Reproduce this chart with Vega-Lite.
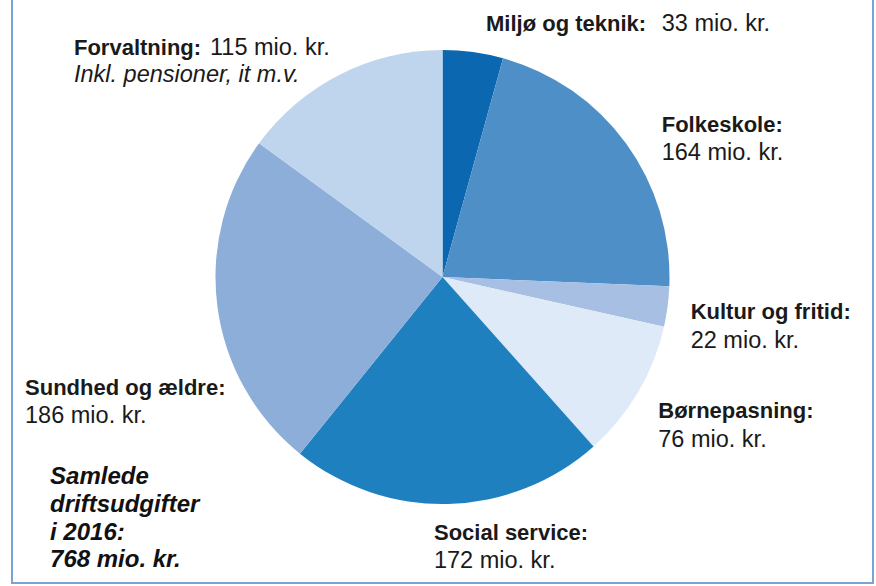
{
  "$schema": "https://vega.github.io/schema/vega-lite/v6.json",
  "width": 861,
  "height": 612,
  "autosize": "none",
  "padding": {"left": 12, "right": 3, "top": -29, "bottom": 3},
  "background": "white",
  "view": {"stroke": "#7aa3d6", "strokeWidth": 2, "fill": "white"},
  "config": {"view": {"stroke": "#7aa3d6", "strokeWidth": 2}, "style": {"cell": {"stroke": "#7aa3d6", "strokeWidth": 2}}},
  "data": {
    "values": [
      {"rank": 1, "cat": "Miljø og teknik", "name": "Miljø og teknik:", "mio": 33, "amount": "33 mio. kr.", "note": "", "summary": ""},
      {"rank": 2, "cat": "Folkeskole", "name": "Folkeskole:", "mio": 164, "amount": "164 mio. kr.", "note": "", "summary": ""},
      {"rank": 3, "cat": "Kultur og fritid", "name": "Kultur og fritid:", "mio": 22, "amount": "22 mio. kr.", "note": "", "summary": ""},
      {"rank": 4, "cat": "Børnepasning", "name": "Børnepasning:", "mio": 76, "amount": "76 mio. kr.", "note": "", "summary": ""},
      {"rank": 5, "cat": "Social service", "name": "Social service:", "mio": 172, "amount": "172 mio. kr.", "note": "", "summary": ""},
      {"rank": 6, "cat": "Sundhed og ældre", "name": "Sundhed og ældre:", "mio": 186, "amount": "186 mio. kr.", "note": "", "summary": "Samlede\ndriftsudgifter\ni 2016:\n768 mio. kr."},
      {"rank": 7, "cat": "Forvaltning", "name": "Forvaltning:", "mio": 115, "amount": "115 mio. kr.", "note": "Inkl. pensioner, it m.v.", "summary": ""}
    ]
  },
  "encoding": {
    "theta": {"field": "mio", "type": "quantitative", "stack": true},
    "order": {"field": "rank", "type": "quantitative"}
  },
  "layer": [
    {
      "mark": {"type": "arc", "radius": 227},
      "encoding": {
        "color": {
          "field": "cat", "type": "nominal", "legend": null,
          "scale": {
            "domain": ["Miljø og teknik", "Folkeskole", "Kultur og fritid", "Børnepasning", "Social service", "Sundhed og ældre", "Forvaltning"],
            "range": ["#0a67b0", "#4f8fc8", "#a7bfe2", "#deeaf7", "#1f80c0", "#8caed8", "#bfd5ed"]
          }
        }
      }
    },
    {
      "mark": {"type": "text", "radius": 258, "dx": 8.8, "dy": 9.7, "align": "left", "baseline": "alphabetic", "font": "Liberation Sans", "fontWeight": "bold", "fontSize": 22, "color": "#1a1a1a"},
      "encoding": {"text": {"condition": {"test": "datum.rank === 1", "field": "name"}, "value": ""}}
    },
    {
      "mark": {"type": "text", "radius": 258, "dx": 184.5, "dy": 9.7, "align": "left", "baseline": "alphabetic", "font": "Liberation Sans", "fontSize": 23.5, "color": "#1a1a1a"},
      "encoding": {"text": {"condition": {"test": "datum.rank === 1", "field": "amount"}, "value": ""}}
    },
    {
      "mark": {"type": "text", "radius": 250, "dx": 17.2, "dy": 2.1, "align": "left", "baseline": "alphabetic", "font": "Liberation Sans", "fontWeight": "bold", "fontSize": 22, "color": "#1a1a1a"},
      "encoding": {"text": {"condition": {"test": "datum.rank === 2", "field": "name"}, "value": ""}}
    },
    {
      "mark": {"type": "text", "radius": 250, "dx": 17.2, "dy": 30.4, "align": "left", "baseline": "alphabetic", "font": "Liberation Sans", "fontSize": 23.5, "color": "#1a1a1a"},
      "encoding": {"text": {"condition": {"test": "datum.rank === 2", "field": "amount"}, "value": ""}}
    },
    {
      "mark": {"type": "text", "radius": 250, "dx": 0.3, "dy": 9.7, "align": "left", "baseline": "alphabetic", "font": "Liberation Sans", "fontWeight": "bold", "fontSize": 22, "color": "#1a1a1a"},
      "encoding": {"text": {"condition": {"test": "datum.rank === 3", "field": "name"}, "value": ""}}
    },
    {
      "mark": {"type": "text", "radius": 250, "dx": 0.3, "dy": 38.7, "align": "left", "baseline": "alphabetic", "font": "Liberation Sans", "fontSize": 23.5, "color": "#1a1a1a"},
      "encoding": {"text": {"condition": {"test": "datum.rank === 3", "field": "amount"}, "value": ""}}
    },
    {
      "mark": {"type": "text", "radius": 250, "dx": 0.3, "dy": 14.5, "align": "left", "baseline": "alphabetic", "font": "Liberation Sans", "fontWeight": "bold", "fontSize": 22, "color": "#1a1a1a"},
      "encoding": {"text": {"condition": {"test": "datum.rank === 4", "field": "name"}, "value": ""}}
    },
    {
      "mark": {"type": "text", "radius": 250, "dx": 0.3, "dy": 42.9, "align": "left", "baseline": "alphabetic", "font": "Liberation Sans", "fontSize": 23.5, "color": "#1a1a1a"},
      "encoding": {"text": {"condition": {"test": "datum.rank === 4", "field": "amount"}, "value": ""}}
    },
    {
      "mark": {"type": "text", "radius": 255, "dx": -14.8, "dy": 8.1, "align": "left", "baseline": "alphabetic", "font": "Liberation Sans", "fontWeight": "bold", "fontSize": 22, "color": "#1a1a1a"},
      "encoding": {"text": {"condition": {"test": "datum.rank === 5", "field": "name"}, "value": ""}}
    },
    {
      "mark": {"type": "text", "radius": 255, "dx": -14.8, "dy": 36.4, "align": "left", "baseline": "alphabetic", "font": "Liberation Sans", "fontSize": 23.5, "color": "#1a1a1a"},
      "encoding": {"text": {"condition": {"test": "datum.rank === 5", "field": "amount"}, "value": ""}}
    },
    {
      "mark": {"type": "text", "radius": 250, "dx": -169.6, "dy": 85.4, "align": "left", "baseline": "alphabetic", "font": "Liberation Sans", "fontWeight": "bold", "fontSize": 22, "color": "#1a1a1a"},
      "encoding": {"text": {"condition": {"test": "datum.rank === 6", "field": "name"}, "value": ""}}
    },
    {
      "mark": {"type": "text", "radius": 250, "dx": -169.6, "dy": 113.7, "align": "left", "baseline": "alphabetic", "font": "Liberation Sans", "fontSize": 23.5, "color": "#1a1a1a"},
      "encoding": {"text": {"condition": {"test": "datum.rank === 6", "field": "amount"}, "value": ""}}
    },
    {
      "mark": {"type": "text", "radius": 250, "dx": -144.6, "dy": 174.7, "align": "left", "baseline": "alphabetic", "lineBreak": "\n", "lineHeight": 27.7, "font": "Liberation Sans", "fontWeight": "bold", "fontStyle": "italic", "fontSize": 24, "color": "#111111"},
      "encoding": {"text": {"condition": {"test": "datum.rank === 6", "field": "summary"}, "value": ""}}
    },
    {
      "mark": {"type": "text", "radius": 250, "dx": -255.2, "dy": 0.9, "align": "left", "baseline": "alphabetic", "font": "Liberation Sans", "fontWeight": "bold", "fontSize": 22, "color": "#1a1a1a"},
      "encoding": {"text": {"condition": {"test": "datum.rank === 7", "field": "name"}, "value": ""}}
    },
    {
      "mark": {"type": "text", "radius": 250, "dx": -119.2, "dy": 0.9, "align": "left", "baseline": "alphabetic", "font": "Liberation Sans", "fontSize": 23.5, "color": "#1a1a1a"},
      "encoding": {"text": {"condition": {"test": "datum.rank === 7", "field": "amount"}, "value": ""}}
    },
    {
      "mark": {"type": "text", "radius": 250, "dx": -255.2, "dy": 27.6, "align": "left", "baseline": "alphabetic", "font": "Liberation Sans", "fontStyle": "italic", "fontSize": 23.5, "color": "#1a1a1a"},
      "encoding": {"text": {"condition": {"test": "datum.rank === 7", "field": "note"}, "value": ""}}
    }
  ]
}
